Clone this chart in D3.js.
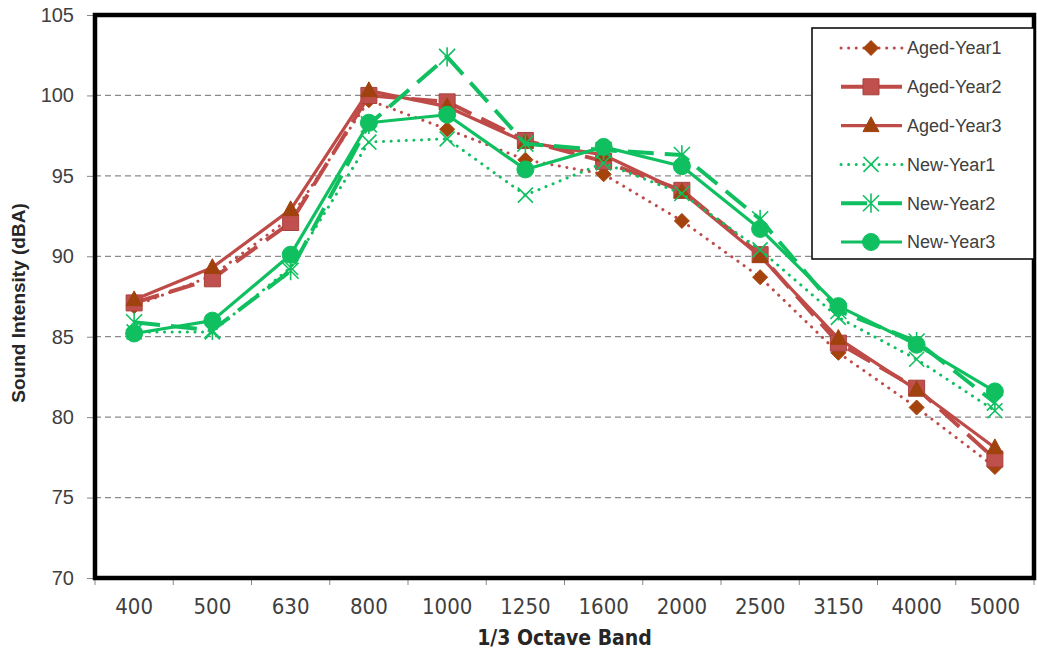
<!DOCTYPE html>
<html>
<head>
<meta charset="utf-8">
<script src="https://cdn.jsdelivr.net/npm/d3@7"></script>
<style>
  html, body { margin: 0; padding: 0; background: #fff; }
  svg { display: block; }
</style>
</head>
<body>
<svg id="chart" width="1037" height="659"></svg>
<script>
// ---------- data ----------
const categories = ["400","500","630","800","1000","1250","1600","2000","2500","3150","4000","5000"];
const agedYear1 = [86.9, 88.8, 92.4, 99.7, 97.9, 96.0, 95.1, 92.2, 88.7, 84.0, 80.6, 76.9];
const agedYear2 = [87.1, 88.6, 92.1, 100.0, 99.6, 97.2, 95.9, 94.1, 90.1, 84.6, 81.8, 77.4];
const agedYear3 = [87.3, 89.3, 92.9, 100.3, 99.3, 97.1, 96.3, 94.0, 90.0, 84.9, 81.7, 78.1];
const newYear1  = [85.3, 85.3, 89.3, 97.1, 97.3, 93.8, 95.8, 93.9, 90.4, 86.2, 83.6, 80.4];
const newYear2  = [85.9, 85.4, 89.1, 98.2, 102.4, 97.0, 96.6, 96.3, 92.3, 86.6, 84.7, 80.9];
const newYear3  = [85.2, 86.0, 90.1, 98.3, 98.8, 95.4, 96.8, 95.6, 91.7, 86.9, 84.5, 81.6];
const yTicks = [70, 75, 80, 85, 90, 95, 100, 105];
const seriesNames = ["Aged-Year1","Aged-Year2","Aged-Year3","New-Year1","New-Year2","New-Year3"];
const xTitle = "1/3 Octave Band";
const yTitle = "Sound Intensity (dBA)";

// ---------- styles ----------
const RED = "#BE4B48", BROWN = "#A5430C", GREEN = "#10C060";
const styles = [
  {line: RED,   width: 3,   dash: "0.1 7.5", cap: "round", marker: "diamond",  fill: BROWN, stroke: BROWN},
  {line: RED,   width: 4,   dash: "26 11",   cap: "butt",  marker: "square",   fill: "#C0504D", stroke: "#A8403C"},
  {line: RED,   width: 3.2, dash: null,      cap: "butt",  marker: "triangle", fill: "#A0420E", stroke: "#A0420E"},
  {line: GREEN, width: 3,   dash: "0.1 7.5", cap: "round", marker: "x",        fill: "none",  stroke: GREEN},
  {line: GREEN, width: 4,   dash: "26 11",   cap: "butt",  marker: "asterisk", fill: "none",  stroke: GREEN},
  {line: GREEN, width: 3.2, dash: null,      cap: "butt",  marker: "circle",   fill: GREEN,   stroke: GREEN}
];
const seriesValues = [agedYear1, agedYear2, agedYear3, newYear1, newYear2, newYear3];

const svg = d3.select("#chart");
const L = 95, R = 1034, T = 15, B = 578;

const x = d3.scaleBand().domain(categories).range([L, R]).padding(0);
const y = d3.scaleLinear().domain([70, 105]).range([B, T]);

// gridlines
svg.append("g").selectAll("line")
  .data(yTicks.filter(v => v > 70 && v < 105))
  .join("line")
  .attr("x1", L).attr("x2", R)
  .attr("y1", d => y(d)).attr("y2", d => y(d))
  .attr("stroke", "#8a8a8a").attr("stroke-width", 1.2)
  .attr("stroke-dasharray", "6 4");

// y axis
const yAxis = d3.axisLeft(y).tickValues(yTicks).tickSize(6).tickPadding(13).tickFormat(d3.format("d"));
const gy = svg.append("g").attr("transform", `translate(${L - 2},0)`).call(yAxis);
gy.select(".domain").remove();
gy.selectAll(".tick line").attr("stroke", "#888");
gy.selectAll(".tick text").attr("fill", "#404040")
  .style("font-family", "'Liberation Sans', Arial, sans-serif").style("font-size", "20px");

// x axis
const xAxis = d3.axisBottom(x).tickSize(0).tickPadding(20);
const gx = svg.append("g").attr("transform", `translate(0,${B})`).call(xAxis);
gx.select(".domain").remove();
gx.selectAll(".tick text").attr("fill", "#404040")
  .style("font-family", "'Liberation Sans Narrow', 'DejaVu Sans Condensed', sans-serif").style("font-size", "22px");
// boundary ticks
const bounds = categories.map(c => x(c)).concat([R]);
svg.append("g").selectAll("line").data(bounds).join("line")
  .attr("x1", d => d).attr("x2", d => d)
  .attr("y1", B).attr("y2", B + 7)
  .attr("stroke", "#888").attr("stroke-width", 1);

// frame
svg.append("rect")
  .attr("x", L).attr("y", T).attr("width", R - L).attr("height", B - T)
  .attr("fill", "none").attr("stroke", "#000").attr("stroke-width", 4.5);

// marker generator
function markerPath(type, s) {
  switch (type) {
    case "diamond": return `M0,${-s}L${s},0L0,${s}L${-s},0Z`;
    case "square": return `M${-s},${-s}H${s}V${s}H${-s}Z`;
    case "triangle": return `M0,${-s*1.1}L${s},${s*0.75}L${-s},${s*0.75}Z`;
    case "x": return `M${-s},${-s}L${s},${s}M${s},${-s}L${-s},${s}`;
    case "asterisk": return `M${-s},${-s}L${s},${s}M${s},${-s}L${-s},${s}M0,${-s*1.2}L0,${s*1.2}`;
    case "circle": return d3.symbol(d3.symbolCircle, Math.PI * s * s)();
  }
}
const markerSize = {diamond: 7.5, square: 8, triangle: 8, x: 7.5, asterisk: 8, circle: 8.5};

const line = d3.line().x((d, i) => x(categories[i]) + x.bandwidth() / 2).y(d => y(d));

seriesValues.forEach((vals, k) => {
  const st = styles[k];
  const g = svg.append("g");
  g.append("path").datum(vals)
    .attr("d", line)
    .attr("fill", "none")
    .attr("stroke", st.line).attr("stroke-width", st.width)
    .attr("stroke-linecap", st.cap).attr("stroke-linejoin", "round")
    .attr("stroke-dasharray", st.dash);
  g.selectAll("path.m").data(vals).join("path").attr("class", "m")
    .attr("transform", (d, i) => `translate(${x(categories[i]) + x.bandwidth() / 2},${y(d)})`)
    .attr("d", markerPath(st.marker, markerSize[st.marker]))
    .attr("fill", st.fill)
    .attr("stroke", st.stroke)
    .attr("stroke-width", (st.marker === "x" || st.marker === "asterisk") ? 1.6 : 1);
});

// legend
const lg = svg.append("g");
lg.append("rect").attr("x", 812).attr("y", 28).attr("width", 222).attr("height", 231)
  .attr("fill", "#fff").attr("stroke", "#000").attr("stroke-width", 1.5);
const legY = d3.scalePoint().domain(seriesNames).range([48, 242]);
seriesNames.forEach((name, k) => {
  const st = styles[k];
  const yy = legY(name);
  lg.append("line").attr("x1", 841).attr("x2", 902).attr("y1", yy).attr("y2", yy)
    .attr("stroke", st.line).attr("stroke-width", st.width)
    .attr("stroke-linecap", st.cap)
    .attr("stroke-dasharray", st.dash);
  lg.append("path").attr("transform", `translate(871,${yy})`)
    .attr("d", markerPath(st.marker, markerSize[st.marker]))
    .attr("fill", st.fill).attr("stroke", st.stroke)
    .attr("stroke-width", (st.marker === "x" || st.marker === "asterisk") ? 1.6 : 1);
  lg.append("text").attr("x", 907).attr("y", yy).attr("dy", "0.35em")
    .attr("fill", "#404040")
    .style("font-family", "'Liberation Sans', Arial, sans-serif").style("font-size", "18px")
    .text(name);
});

// titles
svg.append("text").attr("x", (L + R) / 2 + 0).attr("y", 645)
  .attr("text-anchor", "middle").attr("fill", "#262626")
  .style("font-family", "'Liberation Sans Narrow', 'DejaVu Sans Condensed', sans-serif")
  .style("font-size", "21px").style("font-weight", "bold")
  .text(xTitle);
svg.append("text").attr("transform", "translate(25,303) rotate(-90)")
  .attr("text-anchor", "middle").attr("fill", "#262626")
  .style("font-family", "'Liberation Sans', Arial, sans-serif")
  .style("font-size", "19px").style("font-weight", "bold")
  .text(yTitle);
</script>
</body>
</html>
